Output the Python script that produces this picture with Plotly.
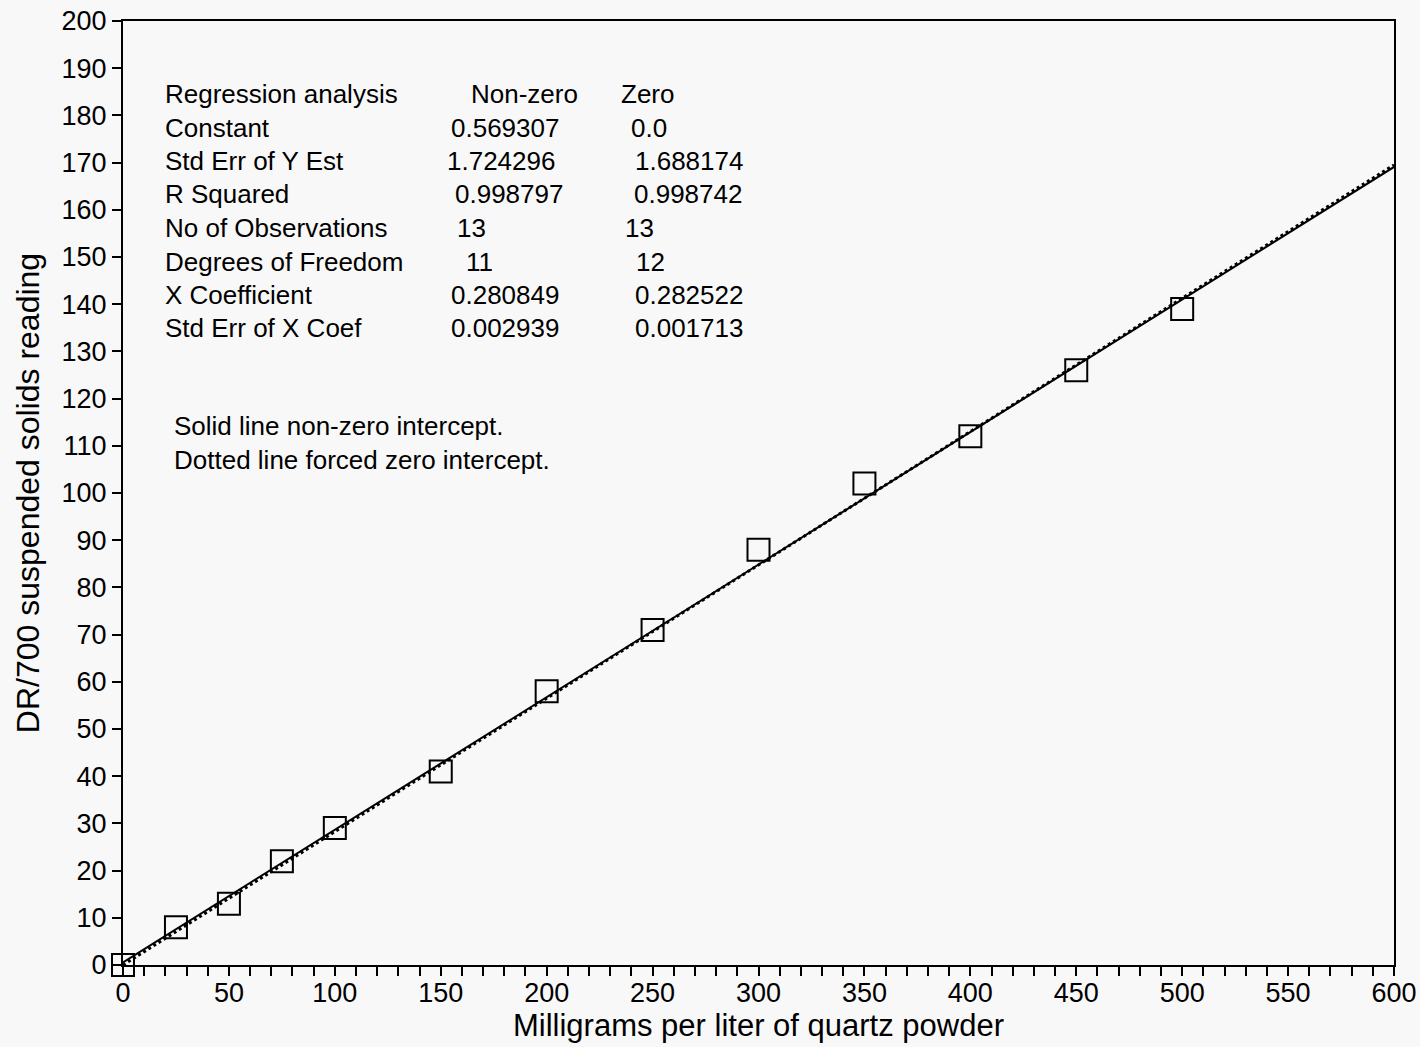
import plotly.graph_objects as go

# ---- data ----
quartz_mg_l = [0, 25, 50, 75, 100, 150, 200, 250, 300, 350, 400, 450, 500]
dr700_reading = [0, 8, 13, 22, 29, 41, 58, 71, 88, 102, 112, 126, 139]

const_nonzero = 0.569307
coef_nonzero = 0.280849
coef_zero = 0.282522
fit_x = [0, 600]

table_labels = ["Regression analysis", "Constant", "Std Err of Y Est", "R Squared",
                "No of Observations", "Degrees of Freedom", "X Coefficient", "Std Err of X Coef"]
table_nonzero = ["Non-zero", "0.569307", "1.724296", "0.998797", "13", "11", "0.280849", "0.002939"]
table_zero = ["Zero", "0.0", "1.688174", "0.998742", "13", "12", "0.282522", "0.001713"]
notes = ["Solid line non-zero intercept.", "Dotted line forced zero intercept."]

# ---- layout geometry (pixels) ----
W, H = 1420, 1047
L, T = 123, 21
R = W - 1394
B = H - 965
PW, PH = W - L - R, H - T - B

def px(x):
    return (x - L) / PW

def py(y):
    return (H - B - y) / PH

FONT = "Liberation Sans, Arial, Helvetica, sans-serif"
TXT = 26

fig = go.Figure()

fig.add_trace(go.Scatter(
    x=fit_x, y=[const_nonzero + coef_nonzero * v for v in fit_x],
    mode="lines", line=dict(color="black", width=2), showlegend=False))
fig.add_trace(go.Scatter(
    x=fit_x, y=[coef_zero * v for v in fit_x],
    mode="lines", line=dict(color="black", width=3, dash="dot"), showlegend=False))
fig.add_trace(go.Scatter(
    x=quartz_mg_l, y=dr700_reading, mode="markers",
    marker=dict(symbol="square-open", size=22, color="black", line=dict(width=2)),
    showlegend=False, cliponaxis=False))

annotations = []
row_y = [94, 128, 161, 194, 228, 262, 295, 328]
nz_x = [471, 451, 447, 455, 457, 466, 451, 451]
z_x = [621, 631, 635, 634, 625, 636, 635, 635]
for i, lab in enumerate(table_labels):
    for txt, xx in ((lab, 165), (table_nonzero[i], nz_x[i]), (table_zero[i], z_x[i])):
        annotations.append(dict(x=px(xx), y=py(row_y[i]), xref="paper", yref="paper",
                                text=txt, showarrow=False, xanchor="left", yanchor="middle",
                                xshift=-2, font=dict(family=FONT, size=TXT, color="black")))
for i, n in enumerate(notes):
    annotations.append(dict(x=px(174), y=py([426, 460][i]), xref="paper", yref="paper",
                            text=n, showarrow=False, xanchor="left", yanchor="middle",
                            xshift=-2, font=dict(family=FONT, size=TXT, color="black")))

fig.update_layout(
    width=W, height=H,
    margin=dict(l=L, r=R, t=T, b=B, autoexpand=False),
    paper_bgcolor="#f8f8f8", plot_bgcolor="#f8f8f8",
    font=dict(family=FONT, color="black"),
    annotations=annotations,
)
fig.update_xaxes(
    range=[0, 600], dtick=50, tick0=0, showgrid=False, zeroline=False, automargin=False,
    showline=True, linecolor="black", linewidth=2, mirror=True,
    ticks="outside", ticklen=9, tickwidth=2, tickcolor="black",
    minor=dict(dtick=10, ticks="outside", ticklen=9, tickwidth=2, tickcolor="black", showgrid=False),
    tickfont=dict(size=27, family=FONT), ticklabeloverflow="allow", ticklabelstandoff=-6,
    title=dict(text="Milligrams per liter of quartz powder", font=dict(size=31, family=FONT), standoff=2),
)
fig.update_yaxes(
    range=[0, 200], dtick=10, tick0=0, showgrid=False, zeroline=False, automargin=False,
    showline=True, linecolor="black", linewidth=2, mirror=True,
    ticks="outside", ticklen=9, tickwidth=2, tickcolor="black",
    tickfont=dict(size=27, family=FONT), ticklabeloverflow="allow",
    title=dict(text="DR/700 suspended solids reading", font=dict(size=32, family=FONT), standoff=12),
)

fig.write_html(
    "out.html",
    config={"displayModeBar": False},
    post_script="document.body.style.margin='0';document.body.style.overflow='hidden';"
                "document.body.style.background='#f8f8f8';",
)
